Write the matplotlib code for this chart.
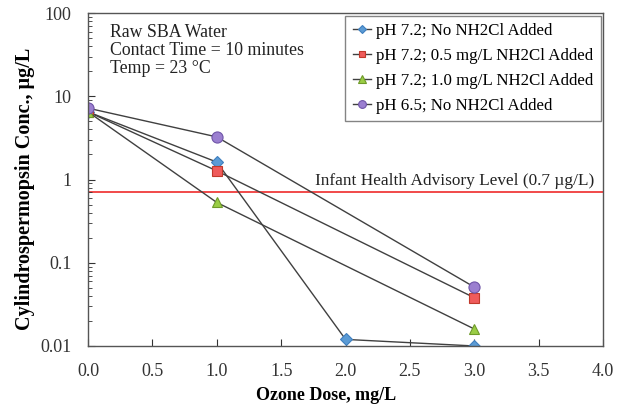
import matplotlib
matplotlib.use("Agg")
import matplotlib.pyplot as plt
from matplotlib.ticker import LogLocator, FixedLocator, NullFormatter, FuncFormatter

plt.rcParams['font.family'] = ['Liberation Serif', 'DejaVu Serif']

dose_a = [0.0, 1.0, 2.0, 3.0]
ph72_none = [6.5, 1.62, 0.012, 0.010]
dose_b = [0.0, 1.0, 3.0]
ph72_05 = [6.5, 1.27, 0.038]
ph72_10 = [6.5, 0.53, 0.016]
ph65_none = [7.2, 3.25, 0.051]
advisory = 0.7

labels = ["pH 7.2; No NH2Cl Added", "pH 7.2; 0.5 mg/L NH2Cl Added",
          "pH 7.2; 1.0 mg/L NH2Cl Added", "pH 6.5; No NH2Cl Added"]
xticks = [0.0, 0.5, 1.0, 1.5, 2.0, 2.5, 3.0, 3.5, 4.0]

fig = plt.figure(figsize=(6.23, 4.08), dpi=100)
ax = fig.add_axes([0.1413, 0.152, 0.8267, 0.816])

series = [
    (dose_a, ph72_none, 'D', '#5b9bd5', '#3f7fbf', 6),
    (dose_b, ph72_05, 's', '#ef5b5b', '#c0392b', 6.5),
    (dose_b, ph72_10, '^', '#9acd45', '#6f9a2a', 7.5),
    (dose_b, ph65_none, 'o', '#9b7fd0', '#6f55a8', 8),
]
for (x, y, m, fc, ec, ms), lab in zip(series, labels):
    ax.plot(x, y, color='#404040', lw=1.0, marker=m, ms=ms, mfc=fc, mec=ec,
            mew=0.8, label=lab)

ax.axhline(advisory, color='#f03c3c', lw=1.3, zorder=1)
ax.text(3.93, 0.76, "Infant Health Advisory Level (0.7 µg/L)", ha='right',
        va='bottom', fontsize=12.4, color='#222222')

ax.set_yscale('log')
ax.set_ylim(0.01, 100)
ax.set_xlim(0, 4.0)
ax.xaxis.set_major_locator(FixedLocator(xticks))
ax.xaxis.set_major_formatter(FuncFormatter(lambda v, p: f"{v:.1f}"))
ax.yaxis.set_major_locator(LogLocator(base=10))
ax.yaxis.set_minor_locator(LogLocator(base=10, subs=range(2, 10)))
ax.yaxis.set_minor_formatter(NullFormatter())
ax.yaxis.set_major_formatter(FuncFormatter(lambda v, p: f"{v:g}"))
ax.tick_params(axis='both', which='both', direction='in', labelsize=13, colors='#333333')
ax.tick_params(axis='both', which='major', length=5)
ax.tick_params(axis='y', which='minor', length=3)
ax.tick_params(axis='x', pad=12)
ax.tick_params(axis='y', pad=12)
for s in ax.spines.values():
    s.set_color('#555555')
    s.set_linewidth(1.0)

ax.set_xlabel("Ozone Dose, mg/L", fontsize=13, fontweight='bold', va='center')
ax.xaxis.set_label_coords(0.462, -0.148)
ax.set_ylabel("Cylindrospermopsin Conc., µg/L", fontsize=14.5, fontweight='bold', va='center')
ax.yaxis.set_label_coords(-0.122, 0.471)

ax.text(0.17, 74, "Raw SBA Water\nContact Time = 10 minutes\nTemp = 23 °C",
        fontsize=12.8, va='top', ha='left', linespacing=1.08, color='#222222')

leg = ax.legend(loc='upper right', bbox_to_anchor=(1.0, 1.0), fontsize=12.2,
                frameon=True, fancybox=False, edgecolor='#666666',
                borderpad=0.45, labelspacing=0.52, handlelength=1.1,
                handletextpad=0.25, borderaxespad=0.15, markerscale=0.7)
leg.get_frame().set_linewidth(1.0)

fig.savefig("out.png", dpi=100)
